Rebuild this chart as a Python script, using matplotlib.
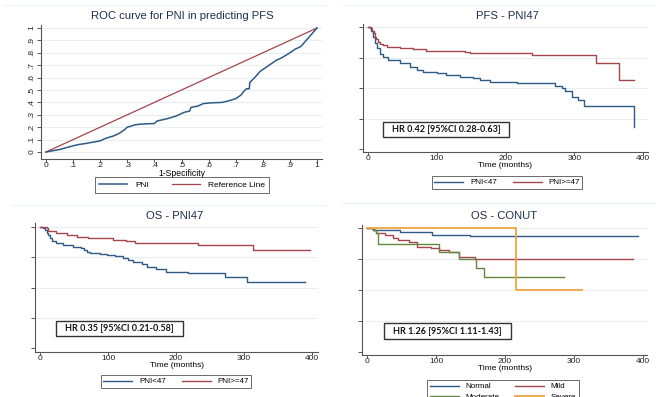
import matplotlib
matplotlib.use('Agg')
import matplotlib.pyplot as plt
from matplotlib.patches import Rectangle
from matplotlib.lines import Line2D

W, H = 662, 397

# ROC curve (PNI predicting PFS)
roc_fpr = [0, 0.05, 0.1, 0.12, 0.15, 0.2, 0.22, 0.25, 0.27, 0.29, 0.3, 0.33, 0.35, 0.4, 0.41,
           0.45, 0.48, 0.5, 0.51, 0.53, 0.535, 0.56, 0.58, 0.6, 0.65, 0.67, 0.7, 0.72, 0.73,
           0.74, 0.75, 0.752, 0.77, 0.79, 0.81, 0.83, 0.85, 0.87, 0.9, 0.92, 0.94, 0.96, 1]
roc_tpr = [0, 0.02, 0.05, 0.06, 0.07, 0.09, 0.11, 0.13, 0.15, 0.18, 0.2, 0.22, 0.225, 0.23, 0.25,
           0.27, 0.29, 0.31, 0.32, 0.33, 0.36, 0.37, 0.39, 0.395, 0.40, 0.41, 0.43, 0.46, 0.49,
           0.51, 0.51, 0.56, 0.6, 0.65, 0.68, 0.71, 0.74, 0.76, 0.8, 0.83, 0.85, 0.9, 1]
roc_ticks = [0, 0.1, 0.2, 0.3, 0.4, 0.5, 0.6, 0.7, 0.8, 0.9, 1]
roc_labels = ["0", ".1", ".2", ".3", ".4", ".5", ".6", ".7", ".8", ".9", "1"]

# PFS by PNI 47
pfs_low_t = [0, 4, 7, 10, 13, 17, 22, 29, 46, 61, 71, 80, 100, 114, 134, 153, 163, 177, 216,
             272, 282, 287, 296, 306, 314, 387]
pfs_low_s = [1, 0.97, 0.92, 0.87, 0.83, 0.78, 0.757, 0.73, 0.707, 0.675, 0.648, 0.634, 0.62,
             0.607, 0.593, 0.58, 0.566, 0.552, 0.538, 0.516, 0.497, 0.475, 0.429, 0.40, 0.355, 0.178]
pfs_high_t = [0, 3, 6, 8, 10, 12, 15, 18, 22, 27, 46, 66, 85, 141, 148, 238, 331, 365, 387]
pfs_high_s = [1, 0.99, 0.97, 0.95, 0.92, 0.9, 0.88, 0.86, 0.85, 0.84, 0.828, 0.817, 0.806,
              0.798, 0.787, 0.773, 0.707, 0.566, 0.566]

# OS by PNI 47
os_low_t = [0, 4, 7, 10, 12, 15, 17, 24, 34, 49, 61, 65, 69, 73, 88, 98, 110, 122, 130, 137,
            150, 157, 171, 186, 218, 272, 305, 390]
os_low_s = [1, 0.99, 0.973, 0.95, 0.93, 0.91, 0.885, 0.863, 0.85, 0.836, 0.822, 0.81, 0.795,
            0.781, 0.776, 0.767, 0.755, 0.74, 0.725, 0.712, 0.69, 0.671, 0.65, 0.63, 0.617,
            0.589, 0.548, 0.548]
os_high_t = [0, 5, 10, 12, 24, 39, 54, 71, 108, 127, 140, 233, 313, 397]
os_high_s = [1, 0.995, 0.987, 0.965, 0.95, 0.93, 0.918, 0.905, 0.89, 0.882, 0.869, 0.85,
             0.808, 0.808]

# OS by CONUT
conut_normal_t = [0, 9, 48, 94, 149, 393]
conut_normal_s = [1, 0.984, 0.97, 0.948, 0.935, 0.935]
conut_mild_t = [0, 9, 13, 26, 37, 45, 61, 73, 93, 105, 119, 134, 156, 385]
conut_mild_s = [1, 0.984, 0.96, 0.943, 0.92, 0.905, 0.89, 0.85, 0.838, 0.824, 0.81, 0.77,
                0.75, 0.75]
conut_mod_t = [0, 10, 13, 16, 105, 134, 158, 169, 285]
conut_mod_s = [1, 0.99, 0.96, 0.873, 0.81, 0.749, 0.676, 0.608, 0.608]
conut_sev_t = [0, 216, 311]
conut_sev_s = [1, 0.5, 0.5]

km_xticks = [0, 100, 200, 300, 400]
km_yticks = [0, 0.25, 0.5, 0.75, 1]

BLUE = "#2d5a86"
RED = "#a5444b"
GREEN = "#62893f"
ORANGE = "#f2a43f"
GRID = "#e6eff1"
TITLE = "#1f2f4d"
AXIS = "#555555"

plt.rcParams['font.family'] = ['Liberation Sans', 'DejaVu Sans']

fig = plt.figure(figsize=(W / 100, H / 100), dpi=100)
fig.patch.set_facecolor('white')


def fx(px):
    return px / W


def fy(py):
    return 1 - py / H


def make_axes(box, xmap, ymap):
    # box = (left, top, right, bottom) in pixels; xmap/ymap = (v0, p0, v1, p1)
    l, t, r, b = box
    ax = fig.add_axes([fx(l), fy(b), (r - l) / W, (b - t) / H])
    v0, p0, v1, p1 = xmap
    k = (v1 - v0) / (p1 - p0)
    ax.set_xlim(v0 + (l - p0) * k, v0 + (r - p0) * k)
    v0, p0, v1, p1 = ymap
    k = (v1 - v0) / (p0 - p1)
    ax.set_ylim(v0 - (b - p0) * k, v0 + (p0 - t) * k)
    for s in ['top', 'right']:
        ax.spines[s].set_visible(False)
    for s in ['left', 'bottom']:
        ax.spines[s].set_color(AXIS)
        ax.spines[s].set_linewidth(0.8)
    ax.tick_params(length=2, width=0.7, color=AXIS, labelsize=6, pad=0.5, labelcolor="#222222")
    ax.tick_params(axis='y', length=3, pad=1)
    ax.set_axisbelow(True)
    return ax


def hr_box(l, t, r, b, text):
    fig.patches.append(Rectangle((fx(l), fy(b)), (r - l) / W, (b - t) / H,
                                 transform=fig.transFigure, fill=False,
                                 edgecolor="#333333", linewidth=1.0))
    fig.text(fx((l + r) / 2), fy((t + b) / 2), text, ha='center', va='center',
             fontsize=6.5, fontweight='bold', family=['Lato', 'DejaVu Sans'], color="#111111")


def add_legend(ax, cx, top, handles=None, labels=None):
    if handles is None:
        handles, labels = ax.get_legend_handles_labels()
    leg = ax.legend(handles, labels, loc='upper center', bbox_to_anchor=(fx(cx), fy(top)),
                    bbox_transform=fig.transFigure, ncol=2, fontsize=5.8,
                    frameon=True, fancybox=False, edgecolor="#444444",
                    handlelength=3.6, handletextpad=0.8, columnspacing=2.0,
                    borderpad=0.35, borderaxespad=0, labelspacing=0.3)
    leg.get_frame().set_linewidth(0.7)
    return leg


# faint graph-region separators at the top of each panel
for (x0, x1, y) in [(5, 325, 5), (342, 655, 5), (12, 325, 205), (342, 655, 203)]:
    fig.add_artist(Line2D([fx(x0), fx(x1)], [fy(y), fy(y)], transform=fig.transFigure,
                          color="#eef4f5", linewidth=0.8))

# ---- Panel 1: ROC ----
ax1 = make_axes((41, 25, 322, 159), (0, 46, 1, 317), (0, 152, 1, 28))
for v in roc_ticks:
    ax1.axhline(v, color=GRID, linewidth=0.7, zorder=0)
ax1.plot([0, 1], [0, 1], color=RED, linewidth=0.9, label="Reference Line")
ax1.plot(roc_fpr, roc_tpr, color=BLUE, linewidth=1.1, label="PNI")
ax1.set_xticks(roc_ticks)
ax1.set_xticklabels(roc_labels)
ax1.set_yticks(roc_ticks)
ax1.set_yticklabels(roc_labels, rotation=90, va='center')
ax1.set_xlabel("1-Specificity", fontsize=6.2, labelpad=-0.5)
h, lab = ax1.get_legend_handles_labels()
leg1 = ax1.legend([h[1], h[0]], [lab[1], lab[0]], loc='upper center',
                  bbox_to_anchor=(fx(182), fy(177)), bbox_transform=fig.transFigure,
                  ncol=2, fontsize=6.0, frameon=True, fancybox=False, edgecolor="#444444",
                  handlelength=3.4, handletextpad=0.9, columnspacing=2.8,
                  borderpad=0.5, borderaxespad=0)
leg1.get_frame().set_linewidth(0.7)
fig.text(fx(182), fy(16), "ROC curve for PNI in predicting PFS", ha='center', va='center',
         fontsize=8.1, color=TITLE)

# ---- Panel 2: PFS - PNI47 ----
ax2 = make_axes((363, 24, 648, 152), (0, 368, 400, 643), (0, 149, 1, 27))
for v in km_yticks[1:]:
    ax2.axhline(v, color=GRID, linewidth=0.7, zorder=0)
ax2.step(pfs_low_t, pfs_low_s, where='post', color=BLUE, linewidth=1.0, label="PNI<47")
ax2.step(pfs_high_t, pfs_high_s, where='post', color=RED, linewidth=1.0, label="PNI>=47")
ax2.set_xticks(km_xticks)
ax2.set_yticks(km_yticks)
ax2.set_yticklabels([])
ax2.set_xlabel("Time (months)", fontsize=6.0, labelpad=0)
add_legend(ax2, 507, 176)
fig.text(fx(507), fy(16), "PFS - PNI47", ha='center', va='center', fontsize=8.1, color=TITLE)
hr_box(383, 122, 509, 137, "HR 0.42 [95%CI 0.28-0.63]")

# ---- Panel 3: OS - PNI47 ----
ax3 = make_axes((35, 223, 318, 352), (0, 40, 400, 312), (0, 348.3, 1, 226.7))
for v in km_yticks[1:]:
    ax3.axhline(v, color=GRID, linewidth=0.7, zorder=0)
ax3.step(os_low_t, os_low_s, where='post', color=BLUE, linewidth=1.0, label="PNI<47")
ax3.step(os_high_t, os_high_s, where='post', color=RED, linewidth=1.0, label="PNI>=47")
ax3.set_xticks(km_xticks)
ax3.set_yticks(km_yticks)
ax3.set_yticklabels([])
ax3.set_xlabel("Time (months)", fontsize=6.0, labelpad=0)
add_legend(ax3, 176, 375)
fig.text(fx(175), fy(216), "OS - PNI47", ha='center', va='center', fontsize=8.1, color=TITLE)
hr_box(56, 321, 183, 336, "HR 0.35 [95%CI 0.21-0.58]")

# ---- Panel 4: OS - CONUT ----
ax4 = make_axes((362, 225, 647, 355), (0, 367, 400, 643), (0, 351.7, 1, 228.3))
for v in km_yticks[1:]:
    ax4.axhline(v, color=GRID, linewidth=0.7, zorder=0)
l_norm, = ax4.step(conut_normal_t, conut_normal_s, where='post', color=BLUE, linewidth=1.0)
l_mild, = ax4.step(conut_mild_t, conut_mild_s, where='post', color=RED, linewidth=1.0)
l_mod, = ax4.step(conut_mod_t, conut_mod_s, where='post', color=GREEN, linewidth=1.0)
l_sev, = ax4.step(conut_sev_t, conut_sev_s, where='post', color=ORANGE, linewidth=1.3)
ax4.set_xticks(km_xticks)
ax4.set_yticks(km_yticks)
ax4.set_yticklabels([])
ax4.set_xlabel("Time (months)", fontsize=6.0, labelpad=0)
# column-major fill: row 1 Normal/Mild, row 2 Moderate/Severe
add_legend(ax4, 503, 380, [l_norm, l_mod, l_mild, l_sev],
           ["Normal", "Moderate", "Mild", "Severe"])
fig.text(fx(504), fy(216), "OS - CONUT", ha='center', va='center', fontsize=8.1, color=TITLE)
hr_box(384, 323, 511, 339, "HR 1.26 [95%CI 1.11-1.43]")

fig.savefig("out.png", dpi=100)
